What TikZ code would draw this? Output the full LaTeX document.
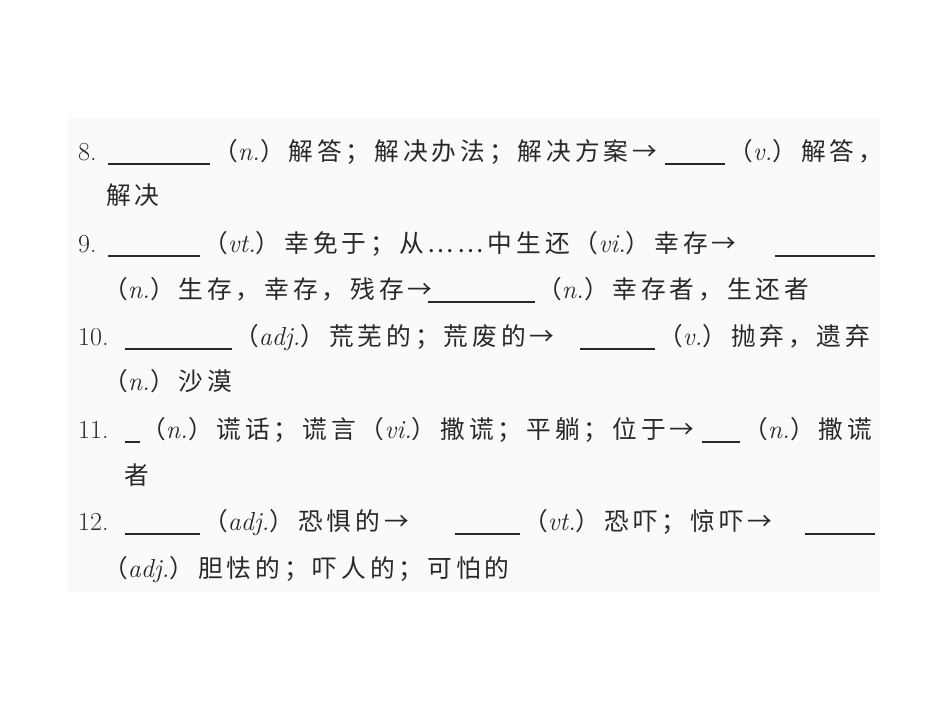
\documentclass[tikz,border=0pt]{standalone}
\usepackage{fontspec}
\newfontfamily\cjk{Noto Sans CJK SC}[Scale=0.95,LetterSpace=16]
\definecolor{bgg}{RGB}{250,250,250}
\definecolor{ink}{RGB}{40,40,40}
\begin{document}
\begin{tikzpicture}[x=1pt,y=-1pt,
  t/.style={anchor=base west,inner sep=0pt,font=\fontsize{26}{30}\selectfont,text=ink},
  bl/.style={draw=ink,line width=1.2pt}]
\useasboundingbox (0,0) rectangle (950,713);
\fill[bgg] (68,118) rectangle (880,592);
% line 1
\node[t] (a1) at (78,160) {8.};
\draw[bl] (108,164) -- (210,164);
\node[t] (a2) at (213,160) {{\cjk （}\textit{n.}{\cjk ）解答；解决办法；解决方案→}};
\draw[bl] (665,164) -- (725,164);
\node[t] (a3) at (728,160) {{\cjk （}\textit{v.}{\cjk ）解答，}};
\node[t] (a4) at (106,204) {\cjk 解决};
% line 3
\node[t] (b1) at (78,252) {9.};
\draw[bl] (108,256) -- (200,256);
\node[t] (b2) at (203,252) {{\cjk （}\textit{vt.}{\cjk ）幸免于；从……中生还（}\textit{vi.}{\cjk ）幸存→}};
\draw[bl] (775,256) -- (875,256);
\node[t] (b3) at (103,298) {{\cjk （}\textit{n.}{\cjk ）生存，幸存，残存→}};
\draw[bl] (428,302) -- (535,302);
\node[t] (b4) at (537,298) {{\cjk （}\textit{n.}{\cjk ）幸存者，生还者}};
% line 5
\node[t] (c1) at (78,345) {10.};
\draw[bl] (125,349) -- (232,349);
\node[t] (c2) at (234,345) {{\cjk （}\textit{adj.}{\cjk ）荒芜的；荒废的→}};
\draw[bl] (580,349) -- (655,349);
\node[t] (c3) at (658,345) {{\cjk （}\textit{v.}{\cjk ）抛弃，遗弃}};
\node[t] (c4) at (103,390) {{\cjk （}\textit{n.}{\cjk ）沙漠}};
% line 7
\node[t] (d1) at (78,438) {11.};
\draw[bl] (125,442) -- (140,442);
\node[t] (d2) at (141,438) {{\cjk （}\textit{n.}{\cjk ）谎话；谎言（}\textit{vi.}{\cjk ）撒谎；平躺；位于→}};
\draw[bl] (702,442) -- (740,442);
\node[t] (d3) at (743,438) {{\cjk （}\textit{n.}{\cjk ）撒谎}};
\node[t] (d4) at (124,484) {\cjk 者};
% line 9
\node[t] (e1) at (78,530) {12.};
\draw[bl] (125,534) -- (200,534);
\node[t] (e2) at (203,530) {{\cjk （}\textit{adj.}{\cjk ）恐惧的→}};
\draw[bl] (455,534) -- (520,534);
\node[t] (e3) at (523,530) {{\cjk （}\textit{vt.}{\cjk ）恐吓；惊吓→}};
\draw[bl] (805,534) -- (875,534);
\node[t] (e4) at (103,577) {{\cjk （}\textit{adj.}{\cjk ）胆怯的；吓人的；可怕的}};
\end{tikzpicture}
\end{document}
